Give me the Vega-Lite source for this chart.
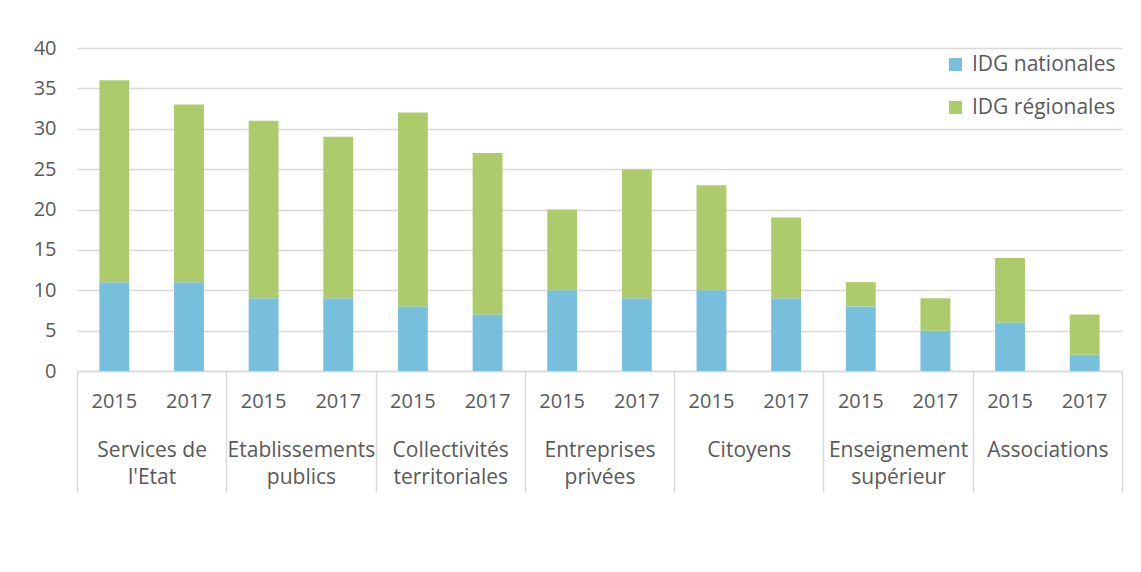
{
  "$schema": "https://vega.github.io/schema/vega-lite/v6.json",
  "width": 1045,
  "height": 323,
  "autosize": {"type": "none"},
  "padding": {"left": 77, "top": 48, "right": 19, "bottom": 201},
  "background": "white",
  "config": {
    "font": "Open Sans",
    "view": {"stroke": null},
    "axis": {"labelColor": "#595959", "labelFontSize": 20, "labelFont": "Open Sans"},
    "legend": {"labelColor": "#595959", "labelFontSize": 21, "labelFont": "Open Sans"}
  },
  "data": {
    "values": [
      {"cat": "Services de l'Etat", "bar": "Services de l'Etat|2015", "year": "2015", "series": "IDG nationales", "value": 11},
      {"cat": "Services de l'Etat", "bar": "Services de l'Etat|2015", "year": "2015", "series": "IDG régionales", "value": 25},
      {"cat": "Services de l'Etat", "bar": "Services de l'Etat|2017", "year": "2017", "series": "IDG nationales", "value": 11},
      {"cat": "Services de l'Etat", "bar": "Services de l'Etat|2017", "year": "2017", "series": "IDG régionales", "value": 22},
      {"cat": "Etablissements publics", "bar": "Etablissements publics|2015", "year": "2015", "series": "IDG nationales", "value": 9},
      {"cat": "Etablissements publics", "bar": "Etablissements publics|2015", "year": "2015", "series": "IDG régionales", "value": 22},
      {"cat": "Etablissements publics", "bar": "Etablissements publics|2017", "year": "2017", "series": "IDG nationales", "value": 9},
      {"cat": "Etablissements publics", "bar": "Etablissements publics|2017", "year": "2017", "series": "IDG régionales", "value": 20},
      {"cat": "Collectivités territoriales", "bar": "Collectivités territoriales|2015", "year": "2015", "series": "IDG nationales", "value": 8},
      {"cat": "Collectivités territoriales", "bar": "Collectivités territoriales|2015", "year": "2015", "series": "IDG régionales", "value": 24},
      {"cat": "Collectivités territoriales", "bar": "Collectivités territoriales|2017", "year": "2017", "series": "IDG nationales", "value": 7},
      {"cat": "Collectivités territoriales", "bar": "Collectivités territoriales|2017", "year": "2017", "series": "IDG régionales", "value": 20},
      {"cat": "Entreprises privées", "bar": "Entreprises privées|2015", "year": "2015", "series": "IDG nationales", "value": 10},
      {"cat": "Entreprises privées", "bar": "Entreprises privées|2015", "year": "2015", "series": "IDG régionales", "value": 10},
      {"cat": "Entreprises privées", "bar": "Entreprises privées|2017", "year": "2017", "series": "IDG nationales", "value": 9},
      {"cat": "Entreprises privées", "bar": "Entreprises privées|2017", "year": "2017", "series": "IDG régionales", "value": 16},
      {"cat": "Citoyens", "bar": "Citoyens|2015", "year": "2015", "series": "IDG nationales", "value": 10},
      {"cat": "Citoyens", "bar": "Citoyens|2015", "year": "2015", "series": "IDG régionales", "value": 13},
      {"cat": "Citoyens", "bar": "Citoyens|2017", "year": "2017", "series": "IDG nationales", "value": 9},
      {"cat": "Citoyens", "bar": "Citoyens|2017", "year": "2017", "series": "IDG régionales", "value": 10},
      {"cat": "Enseignement supérieur", "bar": "Enseignement supérieur|2015", "year": "2015", "series": "IDG nationales", "value": 8},
      {"cat": "Enseignement supérieur", "bar": "Enseignement supérieur|2015", "year": "2015", "series": "IDG régionales", "value": 3},
      {"cat": "Enseignement supérieur", "bar": "Enseignement supérieur|2017", "year": "2017", "series": "IDG nationales", "value": 5},
      {"cat": "Enseignement supérieur", "bar": "Enseignement supérieur|2017", "year": "2017", "series": "IDG régionales", "value": 4},
      {"cat": "Associations", "bar": "Associations|2015", "year": "2015", "series": "IDG nationales", "value": 6},
      {"cat": "Associations", "bar": "Associations|2015", "year": "2015", "series": "IDG régionales", "value": 8},
      {"cat": "Associations", "bar": "Associations|2017", "year": "2017", "series": "IDG nationales", "value": 2},
      {"cat": "Associations", "bar": "Associations|2017", "year": "2017", "series": "IDG régionales", "value": 5}
    ]
  },
  "layer": [
    {
      "mark": {"type": "bar"},
      "encoding": {
        "x": {
          "field": "bar",
          "type": "nominal",
          "sort": null,
          "scale": {"paddingInner": 0.6, "paddingOuter": 0.3},
          "axis": {
            "orient": "bottom",
            "title": null,
            "labelExpr": "slice(datum.label, -4)",
            "labelAngle": 0,
            "domain": false,
            "ticks": false,
            "tickSize": 0,
            "labelPadding": 20,
            "grid": false
          }
        },
        "y": {
          "field": "value",
          "type": "quantitative",
          "stack": "zero",
          "scale": {"domain": [0, 40]},
          "axis": {
            "title": null,
            "values": [0, 5, 10, 15, 20, 25, 30, 35, 40],
            "domain": false,
            "ticks": false,
            "labelPadding": 21,
            "grid": true,
            "gridColor": "#d9d9d9",
            "gridWidth": 1.5
          }
        },
        "color": {
          "field": "series",
          "type": "nominal",
          "scale": {"domain": ["IDG nationales", "IDG régionales"], "range": ["#78BFDD", "#ACCC6B"]},
          "legend": {
            "title": null,
            "orient": "top-right",
            "offset": 6,
            "padding": 0,
            "symbolType": "square",
            "symbolSize": 169,
            "symbolStrokeWidth": 0,
            "labelOffset": 6,
            "rowPadding": 21
          }
        },
        "order": {"field": "series", "sort": "ascending"}
      }
    },
    {
      "mark": {"type": "point", "opacity": 0},
      "encoding": {
        "x": {
          "field": "cat",
          "type": "nominal",
          "sort": null,
          "scale": {"paddingInner": 0, "paddingOuter": 0},
          "axis": {
            "orient": "bottom",
            "title": null,
            "labelAngle": 0,
            "labelFontSize": 21,
            "domain": true,
            "domainColor": "#d9d9d9",
            "domainWidth": 1.5,
            "ticks": true,
            "tickBand": "extent",
            "tickSize": 121,
            "tickColor": "#d9d9d9",
            "tickWidth": 1.5,
            "labelPadding": -53,
            "labelLineHeight": 27,
            "labelLimit": 0,
            "labelExpr": "lastindexof(datum.label, ' ') < 0 ? datum.label : [substring(datum.label, 0, lastindexof(datum.label, ' ')), substring(datum.label, lastindexof(datum.label, ' ') + 1)]"
          }
        }
      }
    }
  ],
  "resolve": {"scale": {"x": "independent"}}
}
